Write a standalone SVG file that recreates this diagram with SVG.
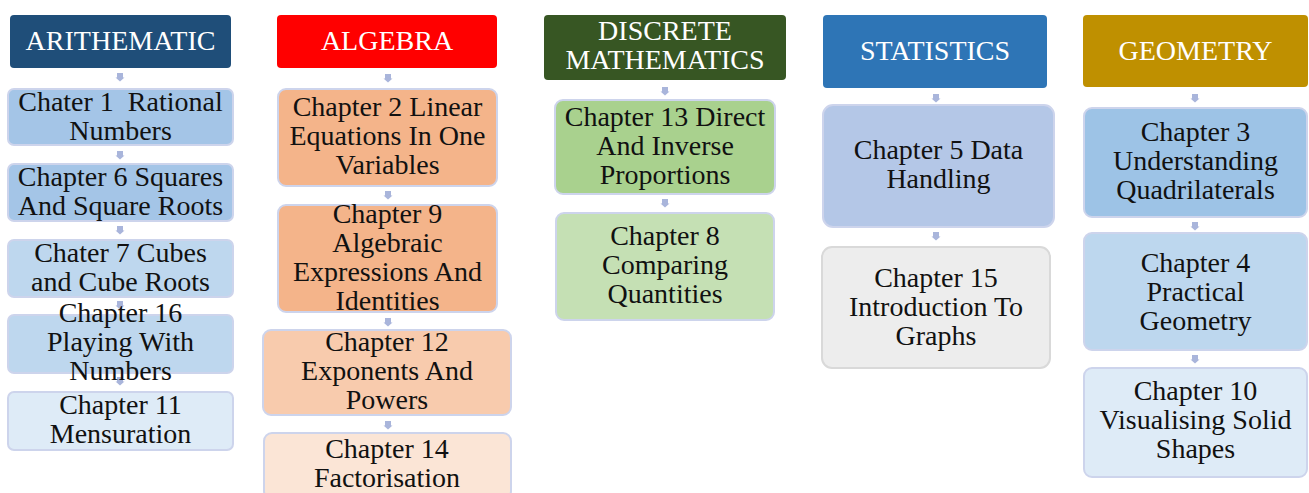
<svg xmlns="http://www.w3.org/2000/svg" width="1309" height="493" viewBox="0 0 1309 493">
<style>
text{font-family:"Liberation Serif","Times New Roman",serif;font-size:28px;text-anchor:middle}
.h text{fill:#ffffff}
.c text{fill:#111111}
.c rect{stroke:#cdd4ec;stroke-width:2}
.arr{fill:#a9b5db}
.pre{white-space:pre}
</style>
<defs>
<path id="a" d="M-3,0 H3 V4.5 H4.5 L0,8.5 L-4.5,4.5 H-3 Z"/>
</defs>
<rect width="1309" height="493" fill="#ffffff"/>
<g id="connectors" class="arr">
<use href="#a" x="120" y="73"/>
<use href="#a" x="120" y="151"/>
<use href="#a" x="120" y="226"/>
<use href="#a" x="120" y="301"/>
<use href="#a" x="120" y="377"/>
<use href="#a" x="388" y="74"/>
<use href="#a" x="388" y="191"/>
<use href="#a" x="388" y="318"/>
<use href="#a" x="388" y="421"/>
<use href="#a" x="665" y="87"/>
<use href="#a" x="665" y="199"/>
<use href="#a" x="936" y="94"/>
<use href="#a" x="936" y="232"/>
<use href="#a" x="1195" y="94"/>
<use href="#a" x="1195" y="222"/>
<use href="#a" x="1195" y="355"/>
</g>
<g id="arithematic" class="h"><rect x="10" y="15" width="221" height="53" rx="4" fill="#1f4e79"/><text x="120.5" y="50">ARITHEMATIC</text></g>
<g id="ch1" class="c"><rect x="8" y="89" width="225" height="56" rx="6" fill="#a4c5e7"/><text class="pre" x="120.5" y="110.5">Chater 1  Rational</text><text x="120.5" y="139.5">Numbers</text></g>
<g id="ch6" class="c"><rect x="8" y="164" width="225" height="57" rx="6" fill="#a4c5e7"/><text x="120.5" y="186">Chapter 6 Squares</text><text x="120.5" y="215">And Square Roots</text></g>
<g id="ch7" class="c"><rect x="8" y="240" width="225" height="57" rx="6" fill="#bed7ee"/><text x="120.5" y="262">Chater 7 Cubes</text><text x="120.5" y="291">and Cube Roots</text></g>
<g id="ch16" class="c"><rect x="8" y="315" width="225" height="58" rx="6" fill="#bed7ee"/><text x="120.5" y="322">Chapter 16</text><text x="120.5" y="351">Playing With</text><text x="120.5" y="380">Numbers</text></g>
<g id="ch11" class="c"><rect x="8" y="392" width="225" height="58" rx="6" fill="#deebf7"/><text x="120.5" y="414">Chapter 11</text><text x="120.5" y="443">Mensuration</text></g>

<g id="algebra" class="h"><rect x="277" y="15" width="220" height="53" rx="4" fill="#ff0000"/><text x="387" y="50">ALGEBRA</text></g>
<g id="ch2" class="c"><rect x="278" y="89" width="219" height="97" rx="8" fill="#f4b48a"/><text x="387.5" y="116">Chapter 2 Linear</text><text x="387.5" y="145">Equations In One</text><text x="387.5" y="174">Variables</text></g>
<g id="ch9" class="c"><rect x="278" y="205" width="219" height="107" rx="8" fill="#f4b48a"/><text x="387.5" y="223">Chapter 9</text><text x="387.5" y="252">Algebraic</text><text x="387.5" y="281">Expressions And</text><text x="387.5" y="310">Identities</text></g>
<g id="ch12" class="c"><rect x="263" y="330" width="248" height="85" rx="8" fill="#f8cbad"/><text x="387" y="351">Chapter 12</text><text x="387" y="380">Exponents And</text><text x="387" y="409">Powers</text></g>
<g id="ch14" class="c"><rect x="264" y="433" width="247" height="66" rx="8" fill="#fbe5d6"/><text x="387" y="458">Chapter 14</text><text x="387" y="487">Factorisation</text></g>

<g id="discrete" class="h"><rect x="544" y="15" width="242" height="65" rx="4" fill="#375623"/><text x="665" y="40">DISCRETE</text><text x="665" y="69">MATHEMATICS</text></g>
<g id="ch13" class="c"><rect x="555" y="100" width="220" height="94" rx="8" fill="#a9d18e"/><text x="665" y="126">Chapter 13 Direct</text><text x="665" y="155">And Inverse</text><text x="665" y="184">Proportions</text></g>
<g id="ch8" class="c"><rect x="556" y="213" width="218" height="107" rx="8" fill="#c5e0b4"/><text x="665" y="245">Chapter 8</text><text x="665" y="274">Comparing</text><text x="665" y="303">Quantities</text></g>

<g id="statistics" class="h"><rect x="823" y="15" width="224" height="73" rx="4" fill="#2e75b6"/><text x="935" y="60">STATISTICS</text></g>
<g id="ch5" class="c"><rect x="823" y="105" width="231" height="122" rx="10" fill="#b4c7e7"/><text x="938.5" y="159">Chapter 5 Data</text><text x="938.5" y="188">Handling</text></g>
<g id="ch15" class="c"><rect x="822" y="247" width="228" height="121" rx="10" fill="#ededed" style="stroke:#d9d9d9"/><text x="936" y="287">Chapter 15</text><text x="936" y="316">Introduction To</text><text x="936" y="345">Graphs</text></g>

<g id="geometry" class="h"><rect x="1083" y="15" width="225" height="72" rx="4" fill="#bf9000"/><text x="1195.5" y="60">GEOMETRY</text></g>
<g id="ch3" class="c"><rect x="1084" y="108" width="223" height="109" rx="8" fill="#9dc3e6"/><text x="1195.5" y="141">Chapter 3</text><text x="1195.5" y="170">Understanding</text><text x="1195.5" y="199">Quadrilaterals</text></g>
<g id="ch4" class="c"><rect x="1084" y="233" width="223" height="117" rx="8" fill="#bdd7ee"/><text x="1195.5" y="272">Chapter 4</text><text x="1195.5" y="301">Practical</text><text x="1195.5" y="330">Geometry</text></g>
<g id="ch10" class="c"><rect x="1084" y="368" width="223" height="109" rx="8" fill="#deebf7"/><text x="1195.5" y="400">Chapter 10</text><text x="1195.5" y="429">Visualising Solid</text><text x="1195.5" y="458">Shapes</text></g>
</svg>
